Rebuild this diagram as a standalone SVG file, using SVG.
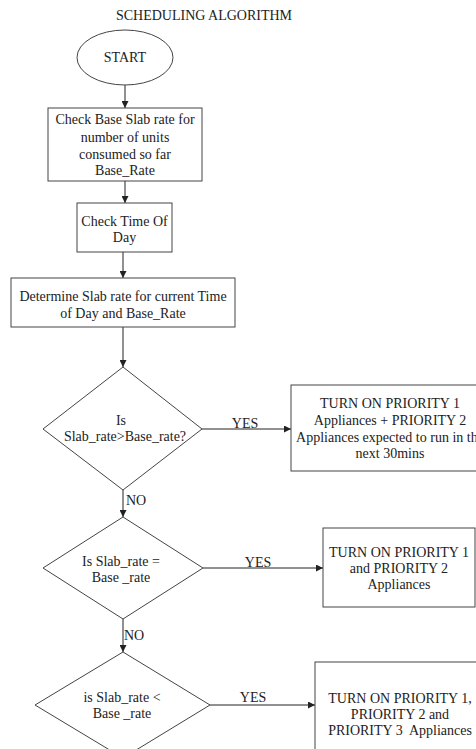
<svg xmlns="http://www.w3.org/2000/svg" width="476" height="749" viewBox="0 0 476 749">
<style>
text{font-size:14px;fill:#222;text-anchor:middle}
.s{fill:#fff;stroke:#444;stroke-width:1}
.c{fill:none;stroke:#222;stroke-width:1}
.l{text-anchor:start}
</style>
<defs>
<marker id="a" viewBox="0 0 10 10" refX="10" refY="5" markerWidth="7" markerHeight="7" orient="auto" markerUnits="userSpaceOnUse"><path d="M0,0L10,5L0,10z" fill="#222"/></marker>
</defs>
<rect width="476" height="749" fill="#fff"/>
<g font-family="Liberation Serif, Times New Roman, serif">
<text id="title" x="204" y="20">SCHEDULING ALGORITHM</text>
<g id="connectors">
<line class="c" x1="125" y1="85" x2="125" y2="108" marker-end="url(#a)"/>
<line class="c" x1="125" y1="181" x2="125" y2="203" marker-end="url(#a)"/>
<line class="c" x1="123" y1="252" x2="123" y2="278" marker-end="url(#a)"/>
<line class="c" x1="123" y1="327" x2="123" y2="367" marker-end="url(#a)"/>
<line class="c" x1="202" y1="429" x2="291" y2="429" marker-end="url(#a)"/>
<line class="c" x1="123" y1="490" x2="123" y2="517" marker-end="url(#a)"/>
<line class="c" x1="203" y1="568" x2="323" y2="568" marker-end="url(#a)"/>
<line class="c" x1="123" y1="619" x2="123" y2="652" marker-end="url(#a)"/>
<line class="c" x1="210" y1="705" x2="315" y2="705" marker-end="url(#a)"/>
<text x="245" y="428">YES</text>
<text class="l" x="126" y="505">NO</text>
<text x="258" y="567">YES</text>
<text class="l" x="124" y="640">NO</text>
<text x="253" y="702">YES</text>
</g>
<g id="start">
<ellipse class="s" cx="125" cy="57.5" rx="48" ry="27.5"/>
<text x="125" y="62">START</text>
</g>
<g id="checkBase">
<rect class="s" x="48" y="108" width="154" height="73"/>
<text x="125" y="124">Check Base Slab rate for</text>
<text x="125" y="142">number of units</text>
<text x="125" y="159">consumed so far</text>
<text x="125" y="175">Base_Rate</text>
</g>
<g id="checkTime">
<rect class="s" x="77" y="203" width="95" height="49"/>
<text x="124.5" y="226">Check Time Of</text>
<text x="124.5" y="242">Day</text>
</g>
<g id="determine">
<rect class="s" x="11" y="278" width="224" height="49"/>
<text x="123" y="301">Determine Slab rate for current Time</text>
<text x="123" y="318">of Day and Base_Rate</text>
</g>
<g id="d1">
<polygon class="s" points="123,367 202,429 123,490 43,429"/>
<text x="121" y="425">Is</text>
<text x="125" y="441">Slab_rate&gt;Base_rate?</text>
</g>
<g id="r1">
<rect class="s" x="291" y="385" width="200" height="86"/>
<text x="390" y="408">TURN ON PRIORITY 1</text>
<text x="390" y="425">Appliances + PRIORITY 2</text>
<text x="390" y="442">Appliances expected to run in the</text>
<text x="390" y="458">next 30mins</text>
</g>
<g id="d2">
<polygon class="s" points="123,517 203,568 123,619 43,568"/>
<text x="121" y="566">Is Slab_rate =</text>
<text x="121" y="582">Base _rate</text>
</g>
<g id="r2">
<rect class="s" x="323" y="528" width="152" height="79"/>
<text x="399" y="557">TURN ON PRIORITY 1</text>
<text x="399" y="573">and PRIORITY 2</text>
<text x="399" y="589">Appliances</text>
</g>
<g id="d3">
<polygon class="s" points="123,652 210,705 123,758 35,705"/>
<text x="122" y="702">is Slab_rate &lt;</text>
<text x="122" y="718">Base _rate</text>
</g>
<g id="r3">
<rect class="s" x="315" y="662" width="172" height="100"/>
<text x="400" y="703">TURN ON PRIORITY 1,</text>
<text x="400" y="719">PRIORITY 2 and</text>
<text x="400" y="735" xml:space="preserve">PRIORITY 3  Appliances</text>
</g>
</g>
</svg>
